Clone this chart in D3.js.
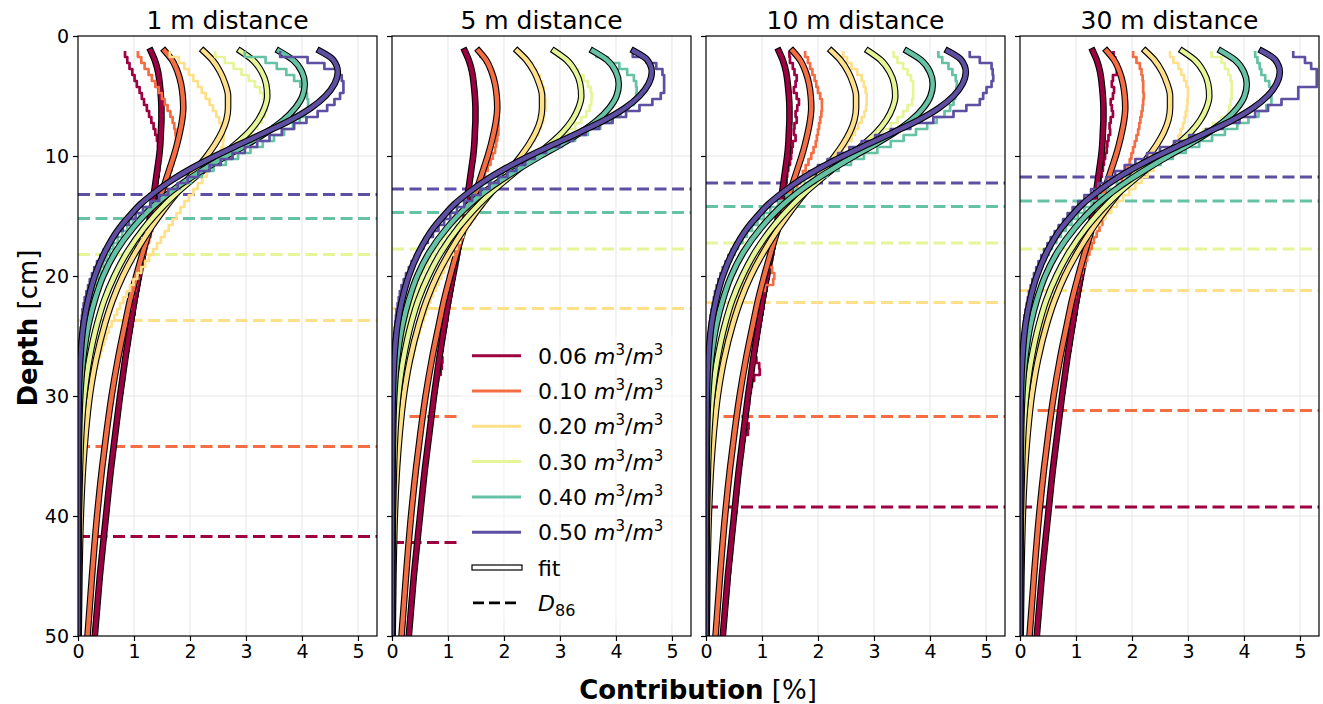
<!DOCTYPE html>
<html><head><meta charset="utf-8">
<script src="https://cdn.jsdelivr.net/npm/d3@7"></script>
<style>body{margin:0;background:#fff;} text{font-family:"DejaVu Sans",sans-serif;fill:#000;}</style>
</head><body><svg id="c" width="1323" height="704"></svg>
<script>
// ---------------- data ----------------
const moisture = ["0.06","0.10","0.20","0.30","0.40","0.50"];
const distances = ["1 m distance","5 m distance","10 m distance","30 m distance"];
const colors = ["#9e0142","#f46d43","#fee08b","#e6f598","#66c2a5","#5e4fa2"];
const xTicks = [0,1,2,3,4,5];
const yTicks = [0,10,20,30,40,50];

// fitted curves (depth in cm, contribution in %)
const fitDepths = [1.25,2,3,4,5,6,7,8,9,10,11,12,13,14,15,16,18,20,22,24,27,30,33,36,40,45,50];
const fit06 = [1.30,1.37,1.43,1.46,1.48,1.49,1.49,1.48,1.47,1.45,1.42,1.39,1.36,1.33,1.29,1.25,1.17,1.09,1.01,0.94,0.84,0.75,0.67,0.59,0.50,0.39,0.30];
const fit10 = [1.55,1.68,1.78,1.84,1.87,1.88,1.86,1.82,1.77,1.71,1.64,1.57,1.50,1.43,1.36,1.29,1.16,1.04,0.93,0.84,0.71,0.60,0.51,0.43,0.34,0.25,0.17];
const fit20 = [2.24,2.40,2.54,2.63,2.68,2.68,2.65,2.57,2.45,2.30,2.13,1.95,1.78,1.61,1.45,1.30,1.03,0.80,0.62,0.48,0.32,0.21,0.14,0.09,0.05,0.025,0.012];
const fit30 = [2.90,3.12,3.28,3.36,3.38,3.33,3.22,3.05,2.82,2.56,2.29,2.03,1.78,1.56,1.36,1.18,0.88,0.65,0.47,0.34,0.20,0.11,0.06,0.035,0.015,0.005,0.002];
const fit40 = [3.59,3.84,4.00,4.05,4.01,3.88,3.67,3.38,3.03,2.65,2.29,1.95,1.65,1.39,1.17,0.98,0.67,0.45,0.30,0.19,0.09,0.04,0.02,0.01,0.004,0.001,0];
const fit50 = [4.32,4.56,4.64,4.58,4.42,4.16,3.80,3.36,2.90,2.45,2.04,1.68,1.38,1.12,0.92,0.74,0.48,0.30,0.18,0.10,0.04,0.015,0.006,0.003,0.001,0,0];

// simulated contribution per 0.5 cm depth bin, first bin starts at stepTop
const stepTop = 1.25, stepWidth = 0.5;

const step1m_06 = [0.84,0.88,0.92,0.97,1.01,1.05,1.10,1.14,1.18,1.23, 1.27,1.31,1.35,1.38,1.41,1.43,1.45,1.46,1.46,1.45, 1.44,1.42,1.41,1.39,1.38,1.36,1.34,1.32,1.30,1.28, 1.26,1.24,1.22,1.20,1.18,1.16,1.14,1.12,1.10,1.08, 1.06,1.04,1.02,1.01,0.99,0.97,0.95,0.93,0.92,0.90, 0.88,0.87,0.85,0.83,0.82,0.80,0.79,0.77,0.76,0.74, 0.73,0.71,0.70,0.69,0.67,0.66,0.65,0.63,0.62,0.61, 0.60,0.58,0.57,0.56,0.55,0.54,0.53,0.52,0.50,0.49, 0.48,0.47,0.46,0.45,0.44,0.43,0.42,0.41,0.40,0.39, 0.38,0.37,0.36,0.35,0.34,0.33,0.32,0.31];
const step1m_10 = [1.07,1.13,1.19,1.26,1.32,1.38,1.44,1.50,1.55,1.60, 1.65,1.69,1.72,1.74,1.75,1.75,1.74,1.72,1.70,1.67, 1.64,1.61,1.58,1.54,1.51,1.47,1.44,1.40,1.37,1.33, 1.30,1.27,1.23,1.20,1.17,1.14,1.11,1.08,1.05,1.02, 0.99,0.96,0.94,0.91,0.89,0.86,0.84,0.81,0.79,0.77, 0.75,0.73,0.71,0.69,0.67,0.65,0.63,0.61,0.60,0.58, 0.56,0.55,0.53,0.52,0.50,0.49,0.47,0.46,0.45,0.43, 0.42,0.41,0.40,0.38,0.37,0.36,0.35,0.34,0.33,0.32, 0.31,0.30,0.29,0.28,0.27,0.26,0.26,0.25,0.24,0.23, 0.22,0.21,0.21,0.20,0.19,0.18,0.18,0.17];
const step1m_20 = [1.64,1.80,1.90,1.98,2.06,2.14,2.21,2.28,2.35,2.41, 2.47,2.52,2.56,2.59,2.60,2.59,2.56,2.51,2.45,2.38, 2.30,2.22,2.14,2.06,1.98,1.90,1.83,1.76,1.69,1.62, 1.55,1.48,1.41,1.34,1.27,1.20,1.13,1.06,0.99,0.93, 0.87,0.81,0.75,0.70,0.65,0.60,0.55,0.51,0.47,0.43, 0.40,0.37,0.34,0.31,0.28,0.26,0.24,0.22,0.20,0.18, 0.17,0.15,0.14,0.13,0.12,0.11,0.10,0.09,0.08,0.08, 0.07,0.06,0.06,0.05,0.05,0.05,0.04,0.04,0.04,0.03, 0.03,0.03,0.03,0.02,0.02,0.02,0.02,0.02,0.02,0.01, 0.01,0.01,0.01,0.01,0.01,0.01,0.01,0.01];
const step1m_30 = [2.45,2.62,2.78,2.92,3.05,3.16,3.25,3.31,3.36,3.37, 3.34,3.28,3.20,3.10,2.98,2.85,2.71,2.56,2.42,2.28, 2.15,2.02,1.90,1.78,1.67,1.56,1.46,1.37,1.28,1.20, 1.12,1.04,0.97,0.90,0.83,0.77,0.71,0.65,0.60,0.55, 0.50,0.46,0.42,0.38,0.35,0.32,0.29,0.26,0.24,0.21, 0.19,0.17,0.16,0.14,0.13,0.11,0.10,0.09,0.08,0.07, 0.07,0.06,0.05,0.05,0.04,0.04,0.03,0.03,0.03,0.02, 0.02,0.02,0.02,0.01,0.01,0.01,0.01,0.01,0.01,0.01];
const step1m_40 = [2.98,3.35,3.55,3.72,3.86,3.97,4.05,4.09,4.11,4.11, 4.05,3.96,3.84,3.68,3.50,3.30,3.08,2.86,2.64,2.42, 2.21,2.01,1.82,1.65,1.49,1.34,1.21,1.09,0.98,0.88, 0.79,0.71,0.63,0.57,0.51,0.45,0.40,0.36,0.32,0.28, 0.25,0.22,0.19,0.17,0.15,0.13,0.11,0.10,0.09,0.08, 0.07,0.06,0.05,0.04,0.04,0.03,0.03,0.02,0.02,0.02, 0.01,0.01,0.01,0.01,0.01,0.01];
const step1m_50 = [3.61,4.10,4.40,4.62,4.71,4.74,4.74,4.68,4.58,4.45, 4.28,4.08,3.86,3.64,3.42,3.20,2.98,2.76,2.55,2.35, 2.15,1.96,1.78,1.61,1.45,1.30,1.16,1.03,0.91,0.80, 0.70,0.61,0.53,0.46,0.40,0.34,0.29,0.25,0.21,0.18, 0.15,0.12,0.10,0.08,0.07,0.06,0.05,0.04,0.03,0.02, 0.02,0.01,0.01,0.01];

const step5m_06 = [1.33,1.37,1.41,1.43,1.45,1.47,1.48,1.49,1.50,1.49, 1.50,1.49,1.49,1.48,1.48,1.47,1.47,1.46,1.45,1.44, 1.43,1.41,1.40,1.38,1.37,1.35,1.34,1.32,1.30,1.28, 1.26,1.24,1.22,1.20,1.18,1.16,1.14,1.12,1.10,1.08, 1.06,1.04,1.02,1.00,0.99,0.97,0.95,0.93,0.91,0.90, 0.88,0.90,0.89,0.87,0.82,0.80,0.79,0.77,0.76,0.74, 0.73,0.71,0.70,0.69,0.67,0.66,0.64,0.63,0.62,0.61, 0.59,0.58,0.57,0.56,0.55,0.54,0.52,0.51,0.50,0.49, 0.48,0.47,0.46,0.45,0.44,0.43,0.42,0.41,0.40,0.39, 0.38,0.37,0.36,0.35,0.34,0.33,0.32,0.31];
const step5m_10 = [1.58,1.66,1.72,1.77,1.81,1.84,1.86,1.87,1.88,1.89, 1.89,1.90,1.90,1.90,1.88,1.86,1.84,1.80,1.76,1.71, 1.66,1.61,1.56,1.51,1.47,1.43,1.39,1.35,1.32,1.28, 1.25,1.22,1.19,1.16,1.13,1.10,1.07,1.04,1.01,0.98, 0.95,0.93,0.90,0.88,0.85,0.83,0.81,0.78,0.76,0.74, 0.72,0.70,0.68,0.66,0.65,0.63,0.61,0.60,0.58,0.57, 0.55,0.54,0.52,0.51,0.49,0.48,0.46,0.45,0.44,0.43, 0.41,0.40,0.39,0.38,0.37,0.36,0.35,0.34,0.33,0.32, 0.31,0.30,0.29,0.28,0.27,0.27,0.26,0.25,0.24,0.23, 0.22,0.22,0.21,0.20,0.19,0.19,0.18,0.17];
const step5m_20 = [2.28,2.40,2.50,2.58,2.64,2.68,2.71,2.73,2.74,2.74, 2.72,2.70,2.66,2.61,2.55,2.48,2.40,2.31,2.22,2.13, 2.04,1.95,1.86,1.78,1.70,1.62,1.55,1.48,1.41,1.34, 1.27,1.21,1.15,1.09,1.03,0.98,0.93,0.88,0.83,0.78, 0.73,0.69,0.65,0.61,0.57,0.53,0.50,0.47,0.44,0.41, 0.38,0.36,0.33,0.31,0.29,0.27,0.25,0.23,0.21,0.20, 0.18,0.17,0.16,0.15,0.14,0.13,0.12,0.11,0.10,0.09, 0.08,0.08,0.07,0.07,0.06,0.06,0.05,0.05,0.04,0.04, 0.04,0.03,0.03,0.03,0.03,0.02,0.02,0.02,0.02,0.02, 0.02,0.01,0.01,0.01,0.01,0.01,0.01,0.01];
const step5m_30 = [2.95,3.10,3.22,3.33,3.42,3.50,3.55,3.57,3.56,3.53, 3.47,3.38,3.27,3.14,3.00,2.85,2.69,2.53,2.37,2.21, 2.06,1.92,1.79,1.66,1.54,1.43,1.33,1.23,1.14,1.05, 0.97,0.90,0.83,0.76,0.70,0.64,0.59,0.54,0.50,0.46, 0.42,0.38,0.35,0.32,0.29,0.27,0.24,0.22,0.20,0.18, 0.16,0.15,0.13,0.12,0.11,0.10,0.09,0.08,0.07,0.06, 0.06,0.05,0.05,0.04,0.04,0.03,0.03,0.03,0.02,0.02, 0.02,0.02,0.01,0.01,0.01,0.01,0.01,0.01];
const step5m_40 = [3.65,3.85,4.06,4.20,4.32,4.36,4.37,4.36,4.32,4.22, 4.08,3.91,3.72,3.50,3.27,3.04,2.80,2.57,2.35,2.14, 1.95,1.77,1.60,1.45,1.31,1.18,1.06,0.95,0.85,0.76, 0.68,0.61,0.54,0.48,0.43,0.38,0.34,0.30,0.26,0.23, 0.20,0.18,0.16,0.14,0.12,0.10,0.09,0.08,0.07,0.06, 0.05,0.04,0.04,0.03,0.03,0.02,0.02,0.02,0.01,0.01, 0.01,0.01];
const step5m_50 = [4.30,4.55,4.72,4.83,4.86,4.86,4.86,4.80,4.65,4.42, 4.18,3.94,3.70,3.46,3.23,2.99,2.75,2.55,2.38,2.22, 2.06,1.90,1.74,1.58,1.43,1.29,1.16,1.04,0.93,0.83, 0.73,0.64,0.56,0.48,0.41,0.35,0.30,0.25,0.21,0.17, 0.14,0.12,0.10,0.08,0.07,0.06,0.05,0.04,0.03,0.03, 0.02,0.02,0.01,0.01,0.01,0.01];

const step10m_06 = [1.49,1.50,1.55,1.58,1.62,1.60,1.57,1.62,1.66,1.63, 1.60,1.62,1.58,1.57,1.60,1.55,1.53,1.52,1.50,1.47, 1.45,1.44,1.42,1.40,1.38,1.36,1.34,1.32,1.30,1.28, 1.26,1.24,1.22,1.20,1.18,1.16,1.14,1.12,1.10,1.08, 1.06,1.04,1.03,1.01,0.99,0.97,0.95,0.94,0.92,0.90, 0.88,0.90,0.95,0.96,0.86,0.82,0.80,0.78,0.77,0.75, 0.74,0.72,0.76,0.75,0.69,0.67,0.66,0.64,0.63,0.62, 0.60,0.59,0.58,0.57,0.56,0.55,0.54,0.52,0.51,0.50, 0.49,0.48,0.47,0.46,0.45,0.44,0.43,0.42,0.41,0.40, 0.39,0.38,0.37,0.36,0.35,0.34,0.33,0.32];
const step10m_10 = [1.77,1.82,1.86,1.90,1.94,1.97,2.00,2.04,2.07,2.07, 2.06,2.04,2.02,2.00,1.98,1.96,1.92,1.88,1.83,1.78, 1.73,1.68,1.63,1.58,1.53,1.48,1.44,1.40,1.35,1.31, 1.27,1.24,1.20,1.17,1.14,1.11,1.18,1.22,1.20,1.05, 0.97,0.94,0.92,0.89,0.86,0.84,0.81,0.79,0.77,0.74, 0.72,0.70,0.68,0.66,0.64,0.62,0.61,0.59,0.57,0.56, 0.54,0.53,0.51,0.50,0.48,0.47,0.46,0.44,0.43,0.42, 0.41,0.40,0.38,0.37,0.36,0.35,0.34,0.33,0.32,0.31, 0.30,0.30,0.29,0.28,0.27,0.26,0.26,0.25,0.24,0.23, 0.23,0.22,0.21,0.21,0.20,0.19,0.19,0.18];
const step10m_20 = [2.45,2.52,2.60,2.70,2.78,2.82,2.85,2.87,2.87,2.86, 2.83,2.78,2.72,2.66,2.60,2.52,2.44,2.35,2.25,2.15, 2.05,1.95,1.85,1.75,1.65,1.56,1.47,1.38,1.30,1.22, 1.14,1.07,1.00,0.94,0.88,0.82,0.76,0.71,0.66,0.62, 0.57,0.53,0.50,0.46,0.43,0.40,0.37,0.34,0.32,0.30, 0.27,0.25,0.23,0.22,0.20,0.18,0.17,0.16,0.14,0.13, 0.12,0.11,0.10,0.10,0.09,0.08,0.08,0.07,0.06,0.06, 0.05,0.05,0.05,0.04,0.04,0.04,0.03,0.03,0.03,0.03, 0.02,0.02,0.02,0.02,0.02,0.02,0.01,0.01,0.01,0.01, 0.01,0.01,0.01,0.01,0.01,0.01,0.01,0.01];
const step10m_30 = [3.35,3.42,3.52,3.60,3.66,3.70,3.70,3.70,3.68,3.60, 3.52,3.42,3.30,3.16,3.01,2.85,2.68,2.51,2.34,2.17, 2.01,1.86,1.72,1.59,1.46,1.34,1.23,1.13,1.03,0.94, 0.86,0.79,0.72,0.66,0.60,0.55,0.50,0.45,0.41,0.37, 0.34,0.31,0.28,0.25,0.23,0.21,0.19,0.17,0.15,0.13, 0.12,0.11,0.10,0.09,0.08,0.07,0.06,0.06,0.05,0.04, 0.04,0.04,0.03,0.03,0.03,0.02,0.02,0.02,0.02,0.01, 0.01,0.01,0.01,0.01];
const step10m_40 = [4.15,4.22,4.33,4.40,4.46,4.48,4.47,4.45,4.42,4.36, 4.26,4.12,3.95,3.75,3.53,3.30,3.06,2.82,2.59,2.37, 2.16,1.96,1.77,1.60,1.44,1.29,1.15,1.03,0.92,0.82, 0.73,0.65,0.57,0.51,0.45,0.40,0.35,0.31,0.27,0.24, 0.21,0.18,0.16,0.14,0.12,0.11,0.09,0.08,0.07,0.06, 0.05,0.04,0.04,0.03,0.03,0.02,0.02,0.02,0.01,0.01, 0.01];
const step10m_50 = [4.71,4.89,5.10,5.12,5.13,5.10,5.01,4.95,4.89,4.65, 4.42,4.06,3.65,3.30,3.02,2.78,2.56,2.36,2.17,2.00, 1.84,1.68,1.53,1.39,1.26,1.14,1.03,0.93,0.84,0.75, 0.67,0.59,0.52,0.46,0.40,0.35,0.30,0.26,0.22,0.19, 0.16,0.14,0.12,0.10,0.08,0.07,0.06,0.05,0.04,0.03, 0.03,0.02,0.02,0.01,0.01,0.01];

const step30m_06 = [1.67,1.70,1.75,1.73,1.66,1.64,1.68,1.66,1.62,1.64, 1.66,1.62,1.60,1.61,1.58,1.56,1.55,1.52,1.50,1.48, 1.46,1.44,1.42,1.40,1.38,1.36,1.34,1.32,1.30,1.28, 1.26,1.24,1.22,1.20,1.18,1.16,1.14,1.12,1.10,1.08, 1.06,1.04,1.02,1.01,0.99,0.97,0.95,0.93,0.92,0.90, 0.88,0.87,0.85,0.83,0.82,0.80,0.79,0.77,0.76,0.74, 0.73,0.71,0.70,0.69,0.67,0.66,0.65,0.63,0.62,0.61, 0.60,0.58,0.57,0.56,0.55,0.54,0.53,0.52,0.50,0.49, 0.48,0.47,0.46,0.45,0.44,0.43,0.42,0.41,0.40,0.39, 0.38,0.37,0.36,0.35,0.34,0.33,0.32,0.31];
const step30m_10 = [2.02,2.08,2.14,2.17,2.19,2.20,2.20,2.21,2.20,2.19, 2.17,2.15,2.13,2.11,2.08,2.05,2.02,1.99,1.96,1.92, 1.87,1.82,1.77,1.72,1.67,1.62,1.57,1.52,1.47,1.42, 1.37,1.32,1.28,1.24,1.20,1.16,1.12,1.08,1.05,1.02, 0.99,0.96,0.93,0.90,0.87,0.85,0.82,0.80,0.77,0.75, 0.73,0.71,0.69,0.67,0.65,0.63,0.62,0.60,0.58,0.57, 0.55,0.54,0.52,0.51,0.49,0.48,0.46,0.45,0.44,0.43, 0.41,0.40,0.39,0.38,0.37,0.36,0.35,0.34,0.33,0.32, 0.31,0.30,0.29,0.28,0.27,0.27,0.26,0.25,0.24,0.23, 0.22,0.22,0.21,0.20,0.19,0.19,0.18,0.17];
const step30m_20 = [2.68,2.74,2.83,2.88,2.93,2.97,3.00,3.00,2.99,2.98, 2.96,2.94,2.91,2.87,2.83,2.76,2.68,2.59,2.49,2.39, 2.28,2.17,2.06,1.95,1.84,1.73,1.63,1.53,1.43,1.34, 1.25,1.17,1.09,1.02,0.95,0.88,0.82,0.76,0.71,0.66, 0.61,0.56,0.52,0.48,0.44,0.41,0.38,0.35,0.32,0.30, 0.27,0.25,0.23,0.21,0.20,0.18,0.17,0.15,0.14,0.13, 0.12,0.11,0.10,0.09,0.08,0.08,0.07,0.06,0.06,0.05, 0.05,0.05,0.04,0.04,0.04,0.03,0.03,0.03,0.03,0.02, 0.02,0.02,0.02,0.02,0.02,0.01,0.01,0.01,0.01,0.01, 0.01,0.01,0.01,0.01,0.01,0.01,0.01,0.01];
const step30m_30 = [3.42,3.60,3.66,3.72,3.76,3.78,3.78,3.78,3.76,3.74, 3.72,3.60,3.45,3.28,3.10,2.92,2.73,2.55,2.37,2.20, 2.04,1.89,1.75,1.62,1.49,1.37,1.26,1.15,1.05,0.96, 0.88,0.80,0.73,0.67,0.61,0.56,0.51,0.46,0.42,0.38, 0.34,0.31,0.28,0.26,0.23,0.21,0.19,0.17,0.15,0.14, 0.12,0.11,0.10,0.09,0.08,0.07,0.06,0.06,0.05,0.04, 0.04,0.04,0.03,0.03,0.03,0.02,0.02,0.02,0.02,0.01, 0.01,0.01,0.01,0.01];
const step30m_40 = [4.20,4.24,4.28,4.31,4.38,4.45,4.49,4.49,4.49,4.40, 4.26,4.08,3.88,3.66,3.43,3.20,2.96,2.73,2.51,2.30, 2.10,1.91,1.73,1.57,1.42,1.28,1.15,1.03,0.92,0.82, 0.73,0.65,0.57,0.51,0.45,0.40,0.35,0.31,0.27,0.24, 0.21,0.18,0.16,0.14,0.12,0.11,0.09,0.08,0.07,0.06, 0.05,0.04,0.04,0.03,0.03,0.02,0.02,0.02,0.01,0.01, 0.01];
const step30m_50 = [4.88,5.09,5.20,5.30,5.30,5.30,4.97,4.97,4.67,4.43, 4.20,3.92,3.62,3.32,3.02,2.75,2.50,2.27,2.06,1.87, 1.70,1.54,1.40,1.27,1.15,1.04,0.94,0.85,0.77,0.69, 0.62,0.55,0.49,0.43,0.38,0.33,0.29,0.25,0.22,0.19, 0.16,0.14,0.12,0.10,0.08,0.07,0.06,0.05,0.04,0.03, 0.03,0.02,0.02,0.01,0.01,0.01];

// penetration depth D86 (cm), order follows moisture
const d86_1m  = [41.7,34.2,23.7,18.2,15.2,13.2];
const d86_5m  = [42.2,31.7,22.7,17.75,14.7,12.75];
const d86_10m = [39.25,31.7,22.2,17.25,14.2,12.25];
const d86_30m = [39.25,31.2,21.2,17.75,13.75,11.75];

// ---------------- assemble ----------------
const fits = [fit06,fit10,fit20,fit30,fit40,fit50];
const steps = [
  [step1m_06,step1m_10,step1m_20,step1m_30,step1m_40,step1m_50],
  [step5m_06,step5m_10,step5m_20,step5m_30,step5m_40,step5m_50],
  [step10m_06,step10m_10,step10m_20,step10m_30,step10m_40,step10m_50],
  [step30m_06,step30m_10,step30m_20,step30m_30,step30m_40,step30m_50]
];
const d86 = [d86_1m,d86_5m,d86_10m,d86_30m];

// ---------------- drawing ----------------
const svg = d3.select("#c");
const W = 299, H = 600, TOP = 36, LEFT0 = 78, STEPX = 314;
const x = d3.scaleLinear().domain([0, 5.34]).range([0, W]);
const y = d3.scaleLinear().domain([0, 50]).range([0, H]);
const GRID = "#e6e6e6";

svg.append("defs").append("clipPath").attr("id","plotclip")
  .append("rect").attr("x",0).attr("y",0).attr("width",W).attr("height",H);

const fitLine = d3.line().x(d=>x(d[0])).y(d=>y(d[1])).curve(d3.curveMonotoneY);
const plainLine = d3.line().x(d=>x(d[0])).y(d=>y(d[1]));

distances.forEach((title, pi) => {
  const g = svg.append("g").attr("transform", `translate(${LEFT0 + pi*STEPX},${TOP})`);
  const grid = g.append("g");
  xTicks.filter(t=>t>0).forEach(t => grid.append("line")
    .attr("x1",x(t)).attr("x2",x(t)).attr("y1",0).attr("y2",H)
    .attr("stroke",GRID).attr("stroke-width",1));
  yTicks.filter(t=>t>0 && t<50).forEach(t => grid.append("line")
    .attr("x1",0).attr("x2",W).attr("y1",y(t)).attr("y2",y(t))
    .attr("stroke",GRID).attr("stroke-width",1));

  const plot = g.append("g").attr("clip-path","url(#plotclip)");
  d86[pi].forEach((dv, mi) => {
    plot.append("line").attr("x1",x(0)).attr("x2",x(5.34))
      .attr("y1",y(dv)).attr("y2",y(dv))
      .attr("stroke",colors[mi]).attr("stroke-width",3)
      .attr("stroke-dasharray","12,5.5");
  });
  moisture.forEach((m, mi) => {
    const pts = [];
    steps[pi][mi].forEach((v, i) => {
      const t = stepTop + i*stepWidth;
      pts.push([v, t]); pts.push([v, t + stepWidth]);
    });
    plot.append("path").attr("d", plainLine(pts)).attr("fill","none")
      .attr("stroke", colors[mi]).attr("stroke-width",2.7).attr("stroke-linejoin","round");
    const fp = fitDepths.map((d,i)=>[fits[mi][i], d]);
    plot.append("path").attr("d", fitLine(fp)).attr("fill","none")
      .attr("stroke","#000").attr("stroke-width",6.6).attr("stroke-linecap","square");
    plot.append("path").attr("d", fitLine(fp)).attr("fill","none")
      .attr("stroke",colors[mi]).attr("stroke-width",4.4).attr("stroke-linecap","square");
  });

  if (pi === 1) {
    const lg = g.append("g");
    const lx = 69, ly0 = 301, lw = W - 69, lh = 285;
    lg.append("rect").attr("x",lx).attr("y",ly0).attr("width",lw).attr("height",lh)
      .attr("fill","#fff");
    xTicks.filter(t=>t>0 && x(t)>lx && x(t)<lx+lw).forEach(t => lg.append("line")
      .attr("x1",x(t)).attr("x2",x(t)).attr("y1",ly0).attr("y2",ly0+lh)
      .attr("stroke","#f0f0f0").attr("stroke-width",1));
    yTicks.filter(t=>y(t)>ly0 && y(t)<ly0+lh).forEach(t => lg.append("line")
      .attr("x1",lx).attr("x2",lx+lw).attr("y1",y(t)).attr("y2",y(t))
      .attr("stroke","#f0f0f0").attr("stroke-width",1));
    const rowY = k => 319.7 + k*35.3;
    moisture.forEach((m, mi) => {
      const yy = rowY(mi);
      lg.append("line").attr("x1",80).attr("x2",129).attr("y1",yy).attr("y2",yy)
        .attr("stroke",colors[mi]).attr("stroke-width",3);
      const t = lg.append("text").attr("x",146).attr("y",yy+8).attr("font-size",22);
      t.append("tspan").text(m + " ");
      t.append("tspan").attr("font-style","italic").text("m");
      t.append("tspan").attr("font-size",15).attr("dy",-9).text("3");
      t.append("tspan").attr("dy",9).text("/");
      t.append("tspan").attr("font-style","italic").text("m");
      t.append("tspan").attr("font-size",15).attr("dy",-9).text("3");
    });
    const yf = rowY(6);
    lg.append("rect").attr("x",80).attr("y",yf-2.5).attr("width",50).attr("height",5)
      .attr("fill","#fff").attr("stroke","#000").attr("stroke-width",1.2);
    lg.append("text").attr("x",146).attr("y",yf+8).attr("font-size",22).text("fit");
    const yd = rowY(7);
    lg.append("line").attr("x1",81).attr("x2",129).attr("y1",yd).attr("y2",yd)
      .attr("stroke","#000").attr("stroke-width",2.8).attr("stroke-dasharray","11,5");
    const td = lg.append("text").attr("x",146).attr("y",yd+8).attr("font-size",22);
    td.append("tspan").attr("font-style","italic").text("D");
    td.append("tspan").attr("font-size",16).attr("dy",5).text("86");
  }

  g.append("rect").attr("x",0).attr("y",0).attr("width",W).attr("height",H)
    .attr("fill","none").attr("stroke","#000").attr("stroke-width",1.2);

  const ax = g.append("g").attr("transform",`translate(0,${H})`)
    .call(d3.axisBottom(x).tickValues(xTicks).tickSize(5).tickPadding(4).tickFormat(d3.format("d")));
  const ay = g.append("g")
    .call(d3.axisLeft(y).tickValues(yTicks).tickSize(5).tickPadding(4)
      .tickFormat(pi === 0 ? d3.format("d") : () => ""));
  [ax, ay].forEach(a => {
    a.select(".domain").remove();
    a.selectAll(".tick line").attr("stroke","#000").attr("stroke-width",1.2);
    a.selectAll(".tick text").attr("font-size",19).attr("font-family","DejaVu Sans").attr("fill","#000");
  });

  g.append("text").attr("x",W/2).attr("y",-7).attr("text-anchor","middle")
    .attr("font-size",25).text(title);
});

const xl = svg.append("text").attr("x",698).attr("y",699).attr("text-anchor","middle").attr("font-size",26);
xl.append("tspan").attr("font-weight","bold").text("Contribution");
xl.append("tspan").text(" [%]");
const yl = svg.append("text").attr("transform","translate(37,328) rotate(-90)")
  .attr("text-anchor","middle").attr("font-size",26);
yl.append("tspan").attr("font-weight","bold").text("Depth");
yl.append("tspan").text(" [cm]");
</script></body></html>
